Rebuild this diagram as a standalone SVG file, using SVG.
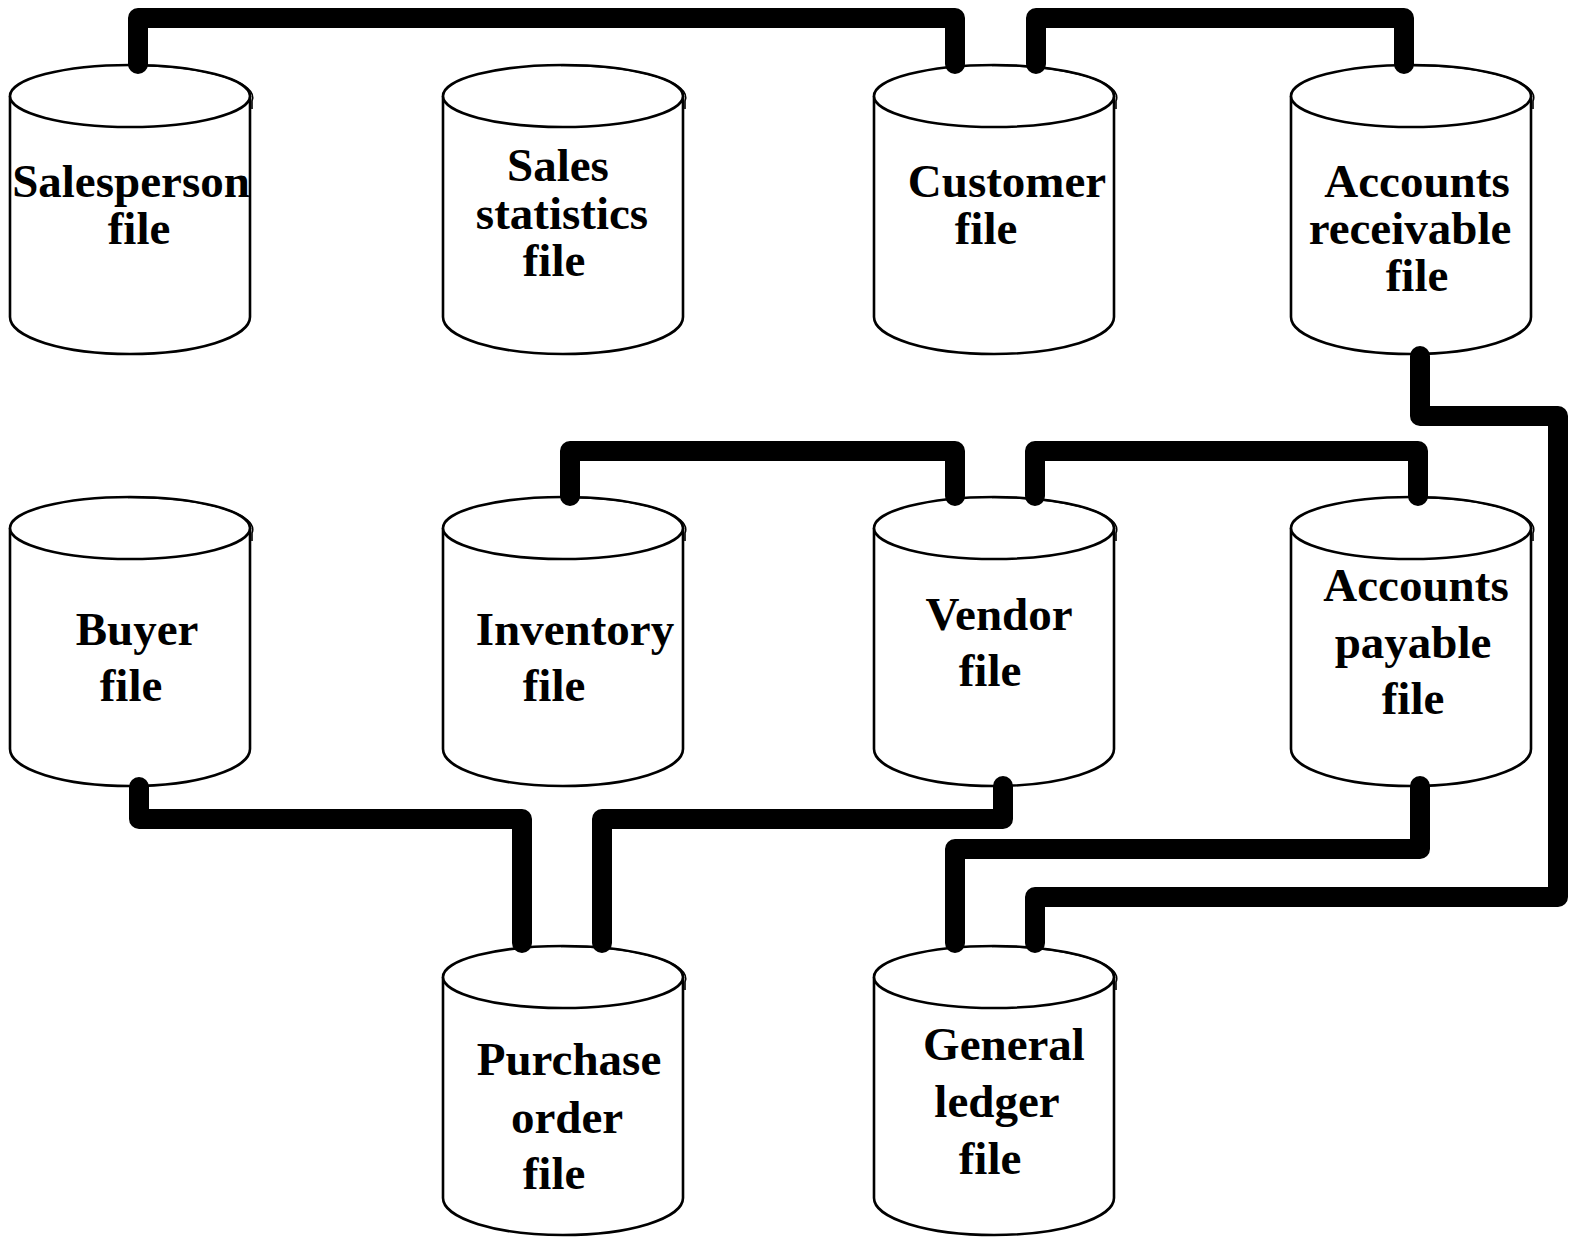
<svg xmlns="http://www.w3.org/2000/svg" xmlns:xlink="http://www.w3.org/1999/xlink" width="1576" height="1239" viewBox="0 0 1576 1239">
<style>
.cyl{fill:#fff;stroke:#000;stroke-width:2.6}
.cyl2{fill:none;stroke:#000;stroke-width:1.6}
.lbl{font-family:"Liberation Serif","Times New Roman",serif;font-weight:bold;font-size:47px;fill:#000;text-anchor:middle}
.conn{fill:none;stroke:#000;stroke-width:20;stroke-linecap:round;stroke-linejoin:round}
</style>
<defs>
<g id="cylinder">
<path class="cyl" d="M0,31 V252 A120,37 0 0 0 240,252 V31"/>
<ellipse class="cyl" cx="120" cy="31" rx="120" ry="31"/>
<path class="cyl2" d="M118,0.5 A121,32 0 0 1 242,36 V44"/>
</g>
</defs>
<rect width="1576" height="1239" fill="#fff"/>

<g id="salesperson">
<use xlink:href="#cylinder" href="#cylinder" x="10" y="65"/>
<text class="lbl" x="131" y="197">Salesperson</text>
<text class="lbl" x="139" y="244">file</text>
</g>
<g id="sales-statistics">
<use xlink:href="#cylinder" href="#cylinder" x="443" y="65"/>
<text class="lbl" x="558" y="181">Sales</text>
<text class="lbl" x="562" y="229">statistics</text>
<text class="lbl" x="554" y="276">file</text>
</g>
<g id="customer">
<use xlink:href="#cylinder" href="#cylinder" x="874" y="65"/>
<text class="lbl" x="1007" y="197">Customer</text>
<text class="lbl" x="986" y="244">file</text>
</g>
<g id="accounts-receivable">
<use xlink:href="#cylinder" href="#cylinder" x="1291" y="65"/>
<text class="lbl" x="1417" y="197">Accounts</text>
<text class="lbl" x="1410" y="244">receivable</text>
<text class="lbl" x="1417" y="291">file</text>
</g>

<g id="buyer">
<use xlink:href="#cylinder" href="#cylinder" x="10" y="497"/>
<text class="lbl" x="137" y="645">Buyer</text>
<text class="lbl" x="131" y="701">file</text>
</g>
<g id="inventory">
<use xlink:href="#cylinder" href="#cylinder" x="443" y="497"/>
<text class="lbl" x="575" y="645">Inventory</text>
<text class="lbl" x="554" y="701">file</text>
</g>
<g id="vendor">
<use xlink:href="#cylinder" href="#cylinder" x="874" y="497"/>
<text class="lbl" x="999" y="630">Vendor</text>
<text class="lbl" x="990" y="686">file</text>
</g>
<g id="accounts-payable">
<use xlink:href="#cylinder" href="#cylinder" x="1291" y="497"/>
<text class="lbl" x="1416" y="601">Accounts</text>
<text class="lbl" x="1413" y="658">payable</text>
<text class="lbl" x="1413" y="714">file</text>
</g>

<g id="purchase-order">
<use xlink:href="#cylinder" href="#cylinder" x="443" y="946"/>
<text class="lbl" x="569" y="1075">Purchase</text>
<text class="lbl" x="567" y="1133">order</text>
<text class="lbl" x="554" y="1189">file</text>
</g>
<g id="general-ledger">
<use xlink:href="#cylinder" href="#cylinder" x="874" y="946"/>
<text class="lbl" x="1004" y="1060">General</text>
<text class="lbl" x="997" y="1117">ledger</text>
<text class="lbl" x="990" y="1174">file</text>
</g>

<g id="connectors">
<path class="conn" d="M138,64 V18 H955 V64"/>
<path class="conn" d="M1036,64 V18 H1404 V64"/>
<path class="conn" d="M1420,356 V416 H1558 V897 H1035 V943"/>
<path class="conn" d="M570,496 V451 H955 V496"/>
<path class="conn" d="M1035,496 V451 H1418 V496"/>
<path class="conn" d="M139,787 V819 H522 V943"/>
<path class="conn" d="M1003,786 V819 H602 V943"/>
<path class="conn" d="M1420,786 V849 H955 V943"/>
</g>
</svg>
